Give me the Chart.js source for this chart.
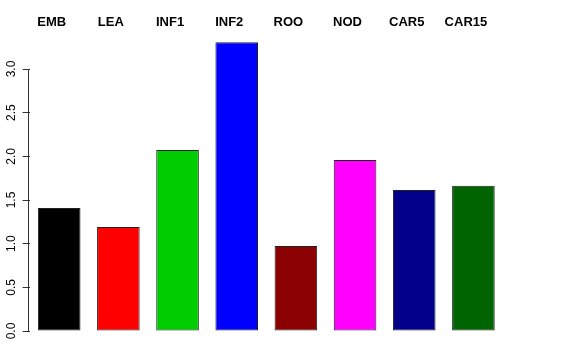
<!DOCTYPE html>
<html>
<head>
<meta charset="utf-8">
<script src="https://cdn.jsdelivr.net/npm/chart.js@4.4.1/dist/chart.umd.min.js"></script>
<style>
  html, body { margin: 0; padding: 0; background: #ffffff; }
  #wrap { width: 576px; height: 360px; position: relative; }
</style>
</head>
<body>
<div id="wrap"><canvas id="c" width="576" height="360"></canvas></div>
<script>
// ---- data ----
const categories = ['EMB', 'LEA', 'INF1', 'INF2', 'ROO', 'NOD', 'CAR5', 'CAR15'];
const values = [1.408, 1.19, 2.073, 3.306, 0.973, 1.958, 1.615, 1.664];
const barColors = ['#000000', '#FF0000', '#00CD00', '#0000FF', '#8B0000', '#FF00FF', '#00008B', '#006400'];
const yTicks = [0.0, 0.5, 1.0, 1.5, 2.0, 2.5, 3.0];

// draws the y axis line from the first to the last tick (R style)
const axisLinePlugin = {
  id: 'axisLine',
  afterDraw(chart) {
    const y = chart.scales.y;
    const ctx = chart.ctx;
    const x = Math.floor(chart.chartArea.left) - 0.5;
    ctx.save();
    ctx.strokeStyle = '#333333';
    ctx.lineWidth = 1;
    ctx.beginPath();
    ctx.moveTo(x, y.getPixelForValue(yTicks[0]));
    ctx.lineTo(x, y.getPixelForValue(yTicks[yTicks.length - 1]));
    ctx.stroke();
    ctx.restore();
  }
};

new Chart(document.getElementById('c'), {
  type: 'bar',
  data: {
    labels: categories,
    datasets: [{
      data: values,
      backgroundColor: barColors,
      borderColor: '#222222',
      borderWidth: 1,
      borderSkipped: false,
      barPercentage: 0.72,
      categoryPercentage: 1.0
    }]
  },
  options: {
    responsive: false,
    animation: false,
    devicePixelRatio: 1,
    layout: { padding: { left: 0, right: 73, top: 0, bottom: 29 } },
    plugins: { legend: { display: false }, tooltip: { enabled: false } },
    scales: {
      x: {
        position: 'top',
        offset: true,
        grid: { display: false },
        border: { display: false },
        ticks: {
          color: '#000000',
          font: { family: 'Liberation Sans', size: 13, weight: 'bold' },
          labelOffset: -7.5,
          padding: 0,
          autoSkip: false,
          maxRotation: 0,
          minRotation: 0
        },
        afterFit(scale) { scale.height = 38; }
      },
      y: {
        min: 0,
        max: 3.355,
        border: { display: false },
        grid: {
          display: true,
          drawOnChartArea: false,
          drawTicks: true,
          tickLength: 7,
          color: '#333333',
          lineWidth: 1
        },
        ticks: {
          color: '#000000',
          font: { family: 'Liberation Sans', size: 12 },
          minRotation: 90,
          maxRotation: 90,
          crossAlign: 'center',
          padding: 3,
          autoSkip: false,
          callback: (v) => Number(v).toFixed(1)
        },
        afterBuildTicks(scale) { scale.ticks = yTicks.map(v => ({ value: v })); },
        afterFit(scale) { scale.width = 29.6; }
      }
    }
  },
  plugins: [axisLinePlugin]
});
</script>
</body>
</html>
